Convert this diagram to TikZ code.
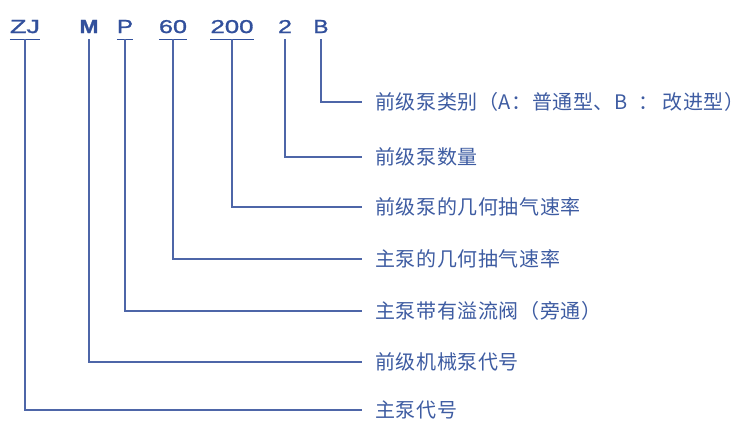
\documentclass[tikz,border=0pt]{standalone}
\usepackage{fontspec}
\usepackage{graphicx}
\setmainfont{Liberation Sans}
\newfontfamily\codefont[FakeBold=1.2]{Liberation Sans}
\newfontfamily\cjk[LetterSpace=3]{Noto Sans CJK SC}
\definecolor{codeblue}{RGB}{50,80,156}
\definecolor{lineblue}{RGB}{78,102,168}
\definecolor{labelblue}{RGB}{62,92,162}
\tikzset{
  code/.style={anchor=base, inner sep=0pt, text depth=6bp, text=codeblue},
  desc/.style={anchor=west, inner xsep=13bp, inner ysep=0pt, text=labelblue,
    font=\cjk\fontsize{20bp}{24bp}\selectfont},
  conn/.style={draw=lineblue, line width=1.3bp},
  uline/.style={draw=codeblue, line width=1.3bp}
}
\newcommand{\codetxt}[2]{\resizebox{#1bp}{13bp}{\codefont #2}}
\begin{document}
\begin{tikzpicture}[x=1bp,y=-1bp]
\useasboundingbox[fill=white] (0,0) rectangle (750,421);
% code letters
\node[code] (zj)  at (25,33)  {\codetxt{30}{ZJ}};
\node[code] (m)   at (89,33)  {\codetxt{19}{\bfseries M}};
\node[code] (p)   at (125,33) {\codetxt{16}{P}};
\node[code] (s60) at (173,33) {\codetxt{28}{60}};
\node[code] (s200) at (232,33) {\codetxt{43}{200}};
\node[code] (n2)  at (285,33) {\codetxt{14}{2}};
\node[code] (b)   at (321,33) {\codetxt{15}{B}};
% underlines
\draw[uline] (zj.south west) -- (zj.south east);
\draw[uline] (p.south west) -- (p.south east);
\draw[uline] (s60.south west) -- (s60.south east);
\draw[uline] (s200.south west) -- (s200.south east);
% descriptions
\node[desc] (d1) at (362,102) {前级泵类别（A：普通型、B\hspace{11bp}：\hspace{4bp}改进型）};
\node[desc] (d2) at (362,157) {前级泵数量};
\node[desc] (d3) at (362,207) {前级泵的几何抽气速率};
\node[desc] (d4) at (362,259) {主泵的几何抽气速率};
\node[desc] (d5) at (362,311) {主泵带有溢流阀（旁通）};
\node[desc] (d6) at (362,362) {前级机械泵代号};
\node[desc] (d7) at (362,410) {主泵代号};
% connectors
\draw[conn] (b.south) |- (d1.west);
\draw[conn] (n2.south) |- (d2.west);
\draw[conn] (s200.south) |- (d3.west);
\draw[conn] (s60.south) |- (d4.west);
\draw[conn] (p.south) |- (d5.west);
\draw[conn] (m.south) |- (d6.west);
\draw[conn] (zj.south) |- (d7.west);
\end{tikzpicture}
\end{document}
